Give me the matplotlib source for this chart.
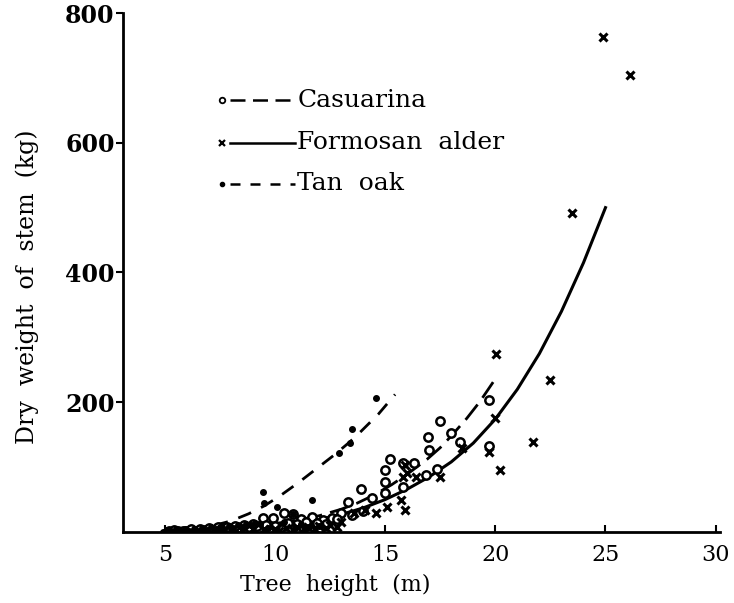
import matplotlib
matplotlib.use("Agg")
import matplotlib.pyplot as plt

plt.rcParams['font.family'] = ['DejaVu Serif']

# --- fitted curves ---
cas_fit_h = [5, 6, 7, 8, 9, 10, 11, 12, 13, 13.7, 14.5, 15.3, 16, 16.9, 17.5, 18, 18.7, 19.3, 19.9]
cas_fit_w = [1, 2, 4, 6, 9, 13, 18, 25, 35, 44, 57, 73, 89, 112, 130, 148, 175, 201, 231]

alder_fit_h = [5, 6, 7, 8, 9, 10, 11, 12, 13, 14, 15, 16, 17, 18, 19, 20, 21, 22, 23, 24, 25]
alder_fit_w = [1, 2, 3, 4.5, 6, 9, 13, 19, 27, 37, 50, 66, 85, 108, 137, 174, 220, 275, 340, 415, 500]

oak_fit_h = [5, 6, 7, 8, 8.8, 9.5, 10.2, 11.1, 11.9, 12.7, 13.4, 13.9, 14.7, 15.45]
oak_fit_w = [1, 3, 8, 17, 28, 40, 55, 77, 98, 119, 139, 155, 182, 212]

# --- observations ---
cas_h = [5.2, 5.6, 6.0, 6.4, 6.8, 7.2, 7.6, 8.0, 8.4, 8.8, 9.2, 9.45, 9.9, 10.4, 10.8,
         11.2, 11.7, 12.2, 12.6, 13.0, 13.3, 13.9, 14.4, 15.0, 15.0, 15.0, 15.2, 15.8,
         16.3, 15.8, 16.95, 17.0, 16.85, 17.35, 17.5, 18.0, 18.4, 19.7, 19.7, 12.3, 11.5,
         5.4, 5.8, 6.2, 6.6, 7.0, 7.4, 7.8, 8.2, 8.6, 9.0, 9.6, 10.0, 10.6, 11.0, 11.4,
         11.9, 12.8, 13.5, 14.0]
cas_w = [1, 1, 2, 2, 3, 3, 4, 5, 6, 7, 9, 22, 22, 29, 27,
         20, 23, 18, 22, 30, 46, 66, 52, 60, 77, 96, 113, 106,
         106, 70, 147, 126, 88, 97, 171, 153, 138, 203, 133, 12, 10,
         3, 2, 4, 5, 6, 7, 8, 9, 10, 12, 11, 9, 14, 12, 16,
         14, 20, 26, 33]

alder_h = [7.5, 8.0, 8.5, 9.0, 9.5, 10.0, 10.5, 11.0, 11.5, 12.0, 12.5, 13.0, 13.6, 14.1,
           14.6, 15.1, 15.7, 15.9, 15.8, 16.0, 16.4, 15.9, 17.5, 18.5, 19.7, 20.2, 20.0,
           20.05, 21.7, 22.5, 23.5, 24.9, 26.1, 10.2, 10.8, 11.3, 11.8, 12.3, 12.8]
alder_w = [2, 3, 3, 4, 5, 5, 6, 7, 8, 9, 11, 15, 29, 34,
           30, 38, 50, 34, 85, 91, 85, 104, 85, 130, 124, 96, 176,
           275, 139, 235, 491, 763, 704, 2, 3, 4, 5, 6, 8]

oak_h = [4.9, 5.3, 5.7, 6.1, 6.5, 6.9, 7.3, 7.7, 8.1, 8.5, 8.9, 9.3, 9.45, 9.5, 10.1,
         10.8, 11.7, 12.9, 13.4, 13.5, 14.6, 10.4, 11.2, 5.1, 5.5, 5.9, 6.3, 6.7, 7.1,
         7.5, 7.9, 8.3, 8.7, 9.1, 9.7, 10.9, 11.5, 12.0]
oak_w = [0.5, 1, 1, 2, 2, 3, 4, 5, 6, 8, 10, 12, 62, 44, 39,
         28, 49, 122, 137, 159, 207, 15, 12, 3, 4, 4, 5, 6, 7,
         8, 9, 11, 12, 14, 6, 6, 7, 9]

legend_names = ["Casuarina", "Formosan  alder", "Tan  oak"]

fig = plt.figure(figsize=(7.34, 6.03), dpi=100)
ax = fig.add_axes([0.1676, 0.1178, 0.8134, 0.8606])

# curves
ax.plot(oak_fit_h, oak_fit_w, color='k', lw=2.0, dashes=(5, 4))
ax.plot(cas_fit_h, cas_fit_w, color='k', lw=2.0, dashes=(7, 3))
ax.plot(alder_fit_h, alder_fit_w, color='k', lw=2.2)

# points
ax.plot(cas_h, cas_w, 'o', mfc='white', mec='k', ms=6, mew=1.8, ls='none')
ax.plot(alder_h, alder_w, 'x', color='k', ms=5.5, mew=2.2, ls='none')
ax.plot(oak_h, oak_w, 'o', color='k', ms=4, ls='none')

ax.set_xlim(3.1, 30.2)
ax.set_ylim(0, 800)
ax.set_xticks([5, 10, 15, 20, 25, 30])
ax.set_yticks([200, 400, 600, 800])
ax.tick_params(axis='x', direction='in', length=5, width=1.5, labelsize=16, pad=9)
ax.tick_params(axis='y', direction='out', length=5, width=1.5, labelsize=17, pad=1)
for lab in ax.get_yticklabels():
    lab.set_fontweight('bold')

for s in ['top', 'right']:
    ax.spines[s].set_visible(False)
for s in ['left', 'bottom']:
    ax.spines[s].set_linewidth(2.0)

ax.set_xlabel("Tree  height  (m)", fontsize=16, va='center')
ax.xaxis.set_label_coords(0.355, -0.102)
ax.set_ylabel("Dry  weight  of  stem  (kg)", fontsize=17, va='center')
ax.yaxis.set_label_coords(-0.161, 0.472)

# hand drawn style legend: marker, line, then name
leg_y = [0.832, 0.750, 0.671]
leg_styles = [dict(dashes=(6, 3)), dict(ls='-'), dict(dashes=(4, 4))]
leg_markers = [dict(marker='o', mfc='white', mec='k', ms=4, mew=1.3),
               dict(marker='x', color='k', ms=4, mew=1.6),
               dict(marker='o', color='k', ms=3)]
for name, y, st, mk in zip(legend_names, leg_y, leg_styles, leg_markers):
    ax.plot([0.166], [y], transform=ax.transAxes, ls='none', clip_on=False, **mk)
    ax.plot([0.180, 0.288], [y, y], transform=ax.transAxes, color='k', lw=1.8, **st)
    ax.text(0.292, y, name, transform=ax.transAxes, fontsize=18, va='center', ha='left')

fig.savefig("out.png", dpi=100)
